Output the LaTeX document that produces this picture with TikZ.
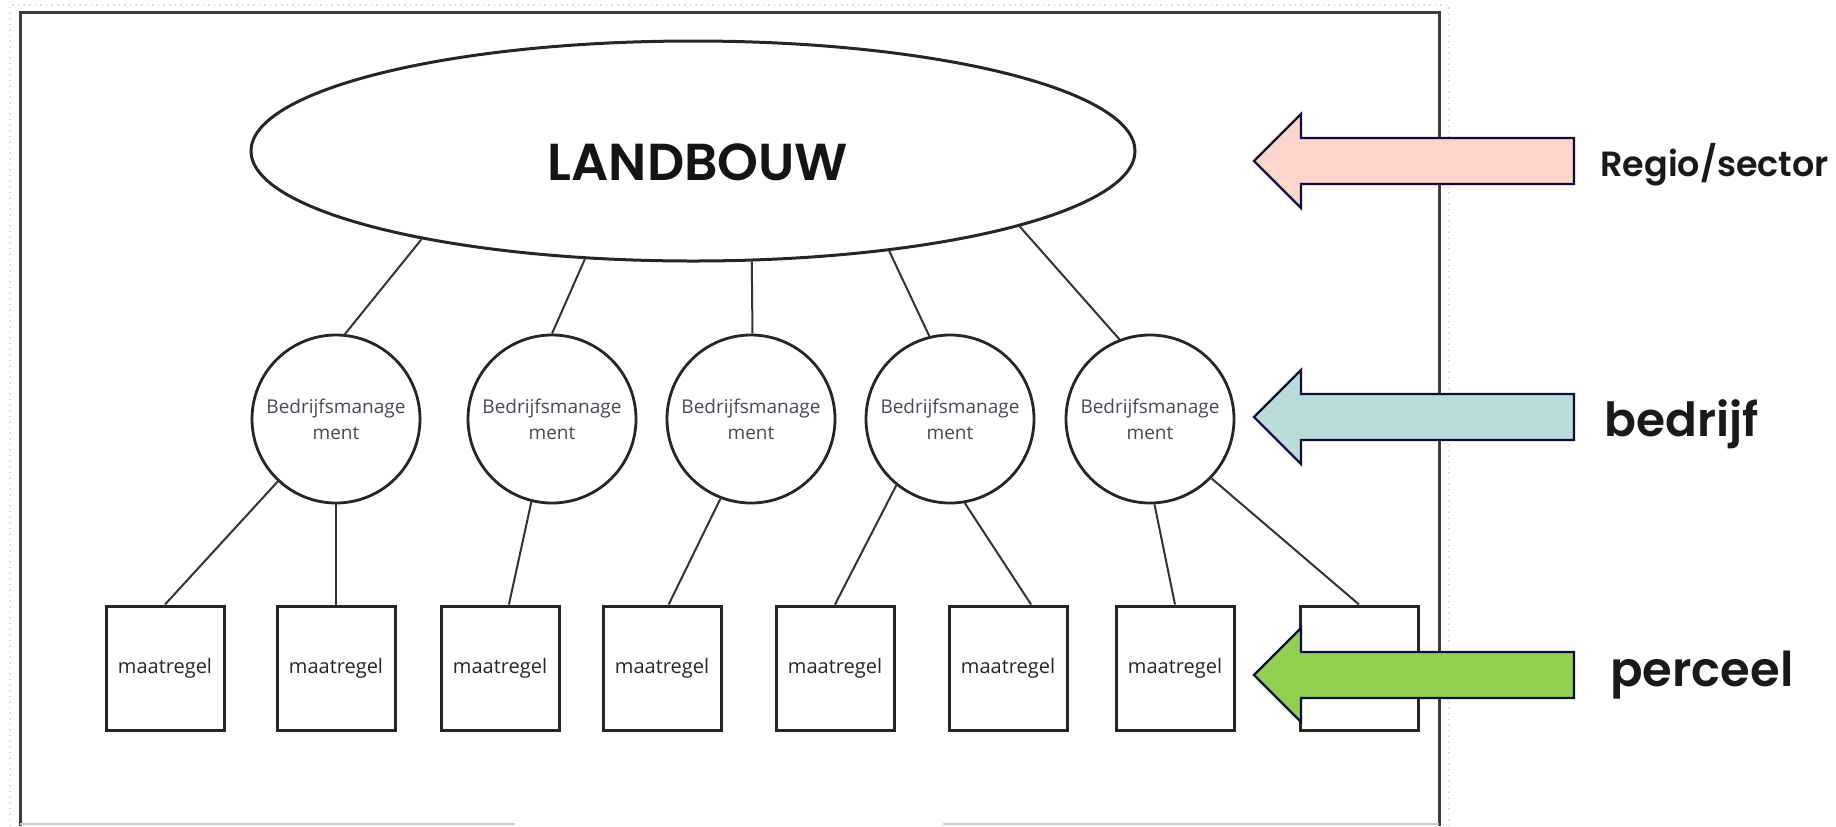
\documentclass[tikz,border=0pt]{standalone}
\usepackage{fontspec}
\setmainfont{Open Sans}
\newfontfamily\gothicfont{Poppins}[BoldFont={Poppins SemiBold}]
\usepackage{tikz}
\usetikzlibrary{shapes.geometric}
\definecolor{framegray}{HTML}{3C3C3C}
\definecolor{sectorpink}{HTML}{FDD5CB}
\definecolor{bedrijfteal}{HTML}{B9DCDA}
\definecolor{perceelgreen}{HTML}{92D050}
\definecolor{arrowedge}{HTML}{0C0C38}
\definecolor{bmtext}{HTML}{454A55}
\tikzset{
  frameline/.style={draw=framegray, line width=1.5pt},
  sector/.style={ellipse, draw=black!85, line width=1.5pt, minimum width=442pt, minimum height=110pt, inner sep=0pt},
  titletext/.style={inner sep=0pt, text=black!92, font=\gothicfont\bfseries\fontsize{26}{30}\selectfont},
  bedrijfnode/.style={circle, draw=black!85, line width=1.4pt, minimum size=84pt, inner sep=0pt, align=center, text=bmtext, font=\fontsize{9.5}{13}\selectfont},
  maatregel/.style={rectangle, draw=black!85, line width=1.5pt, minimum width=59pt, minimum height=62pt, inner sep=0pt, text=black!85, font=\fontsize{10}{12}\selectfont},
  link/.style={draw=black!80, line width=1pt},
  levelarrow/.style={draw=arrowedge, line width=1.2pt, line join=miter},
  levellabel/.style={anchor=base west, inner sep=0pt, text=black!90}
}

\begin{document}
\begin{tikzpicture}[x=0.5pt, y=-0.5pt]
  \useasboundingbox (0,0) rectangle (1836,826);
  % Frame
  \draw[gray!25, dotted, line width=0.8pt] (10,826) -- (10,5) -- (1449,5) -- (1449,826);
  \draw[frameline] (20,826) -- (20,12) -- (1439,12) -- (1439,826);
  \draw[gray!40, line width=1pt] (20,824) -- (515,824) (943,824) -- (1439,824);
  % Sector
  \node[sector] (land) at (693,151) {};
  \node[titletext] (landtitle) at (698,162) {LANDBOUW};
  % Bedrijven
  \foreach \i/\bx in {1/336, 2/552, 3/751, 4/950, 5/1150}
    \node[bedrijfnode] (bm\i) at (\bx,419) {Bedrijfsmanage\\ment};
  % Percelen
  \foreach \i/\mx in {1/165, 2/336, 3/500, 4/662, 5/835, 6/1008, 7/1175}
    \node[maatregel] (m\i) at (\mx,668) {maatregel};
  \node[maatregel] (m8) at (1359,668) {};
  % Sector to bedrijf
  \draw[link] (land.198) -- (bm1.84);
  \draw[link] (land.225) -- (bm2.90);
  \draw[link] (land.298) -- (bm3.89);
  \draw[link] (land.333) -- (bm4.104);
  \draw[link] (land.347) -- (bm5.111);
  % Bedrijf to maatregel
  \draw[link] (bm1.227) -- (m1.north);
  \draw[link] (bm1.south) -- (m2.north);
  \draw[link] (bm2.256) -- (m3.82);
  \draw[link] (bm3.249) -- (m4.84);
  \draw[link] (bm4.231) -- (m5.north);
  \draw[link] (bm4.280) -- (m6.70);
  \draw[link] (bm5.273) -- (m7.north);
  \draw[link] (bm5.316) -- (m8.north);
  % Level arrows
  \foreach \ay/\acol in {161/sectorpink, 417/bedrijfteal, 675/perceelgreen}
    \draw[levelarrow, fill=\acol] (1254,\ay) -- ++(47,-47) -- ++(0,24) -- ++(273,0)
      -- ++(0,46) -- ++(-273,0) -- ++(0,24) -- cycle;
  \node[levellabel, font=\gothicfont\bfseries\fontsize{17.5}{22}\selectfont] (regio) at (1600,176) {Regio/sector};
  \node[levellabel, font=\gothicfont\bfseries\fontsize{23.5}{28}\selectfont] (bedrijf) at (1604,436) {bedrijf};
  \node[levellabel, font=\gothicfont\bfseries\fontsize{24}{28}\selectfont] (perceel) at (1610,686) {perceel};
\end{tikzpicture}
\end{document}
